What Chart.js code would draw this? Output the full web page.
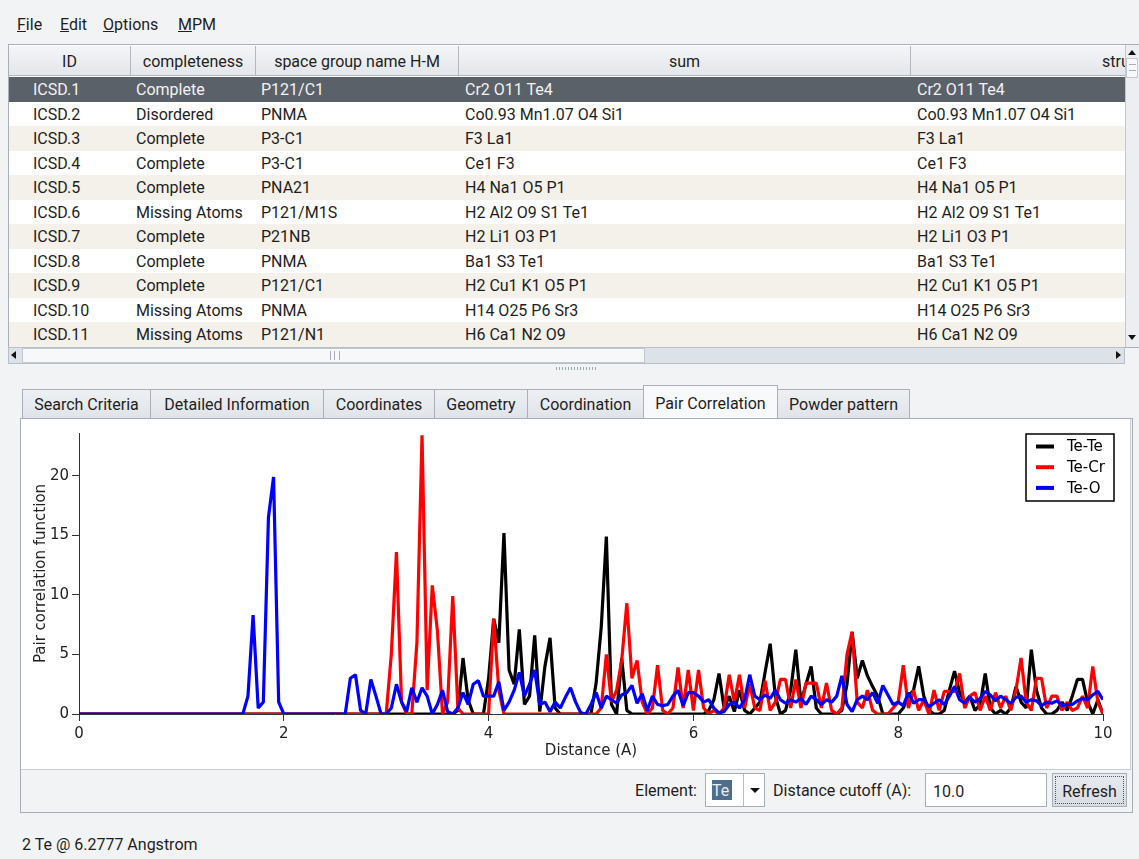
<!DOCTYPE html>
<html>
<head>
<meta charset="utf-8">
<script src="https://cdn.jsdelivr.net/npm/chart.js@4.4.0/dist/chart.umd.min.js"></script>
<style>
  body { margin: 0; width: 1139px; height: 859px; background: #f2f3f5; position: relative; overflow: hidden;
         font-family: Roboto, 'Noto Sans', sans-serif; font-size: 16px; color: #1e1e1e; }
  .abs { position: absolute; box-sizing: border-box; }
  .menu { position: absolute; top: 15px; }
  #tableClip { left: 9px; top: 45px; width: 1116px; height: 302px; overflow: hidden; background: #fff; }
  .hd { position: absolute; top: 1px; height: 30px; line-height: 31px; text-align: center; white-space: nowrap;
        background: linear-gradient(#f4f5f7, #e3e6ea); border-right: 1px solid #b3b8c0; border-bottom: 1px solid #b3b8c0; box-sizing: border-box; }
  .row { position: absolute; left: 0; width: 1500px; height: 24.5px; line-height: 26px; white-space: nowrap; }
  .row span { position: absolute; }
  .tab { position: absolute; top: 389px; height: 30px; line-height: 29px; text-align: center; box-sizing: border-box;
         border: 1px solid #aab0ba; border-bottom: none; background: linear-gradient(#eef0f3, #dfe3e8); white-space: nowrap; }
  .tab.sel { top: 385px; height: 34px; line-height: 36px; background: #f8f9fa; }
  .tri { position: absolute; width: 0; height: 0; }
</style>
</head>
<body>
<div class="menu" style="left:17px"><u>F</u>ile</div>
<div class="menu" style="left:60px"><u>E</u>dit</div>
<div class="menu" style="left:103px"><u>O</u>ptions</div>
<div class="menu" style="left:178px"><u>M</u>PM</div>

<div class="abs" style="left:8px;top:44px;width:1131px;height:304px;border:1px solid #a9afb8;"></div>
<div id="tableClip" class="abs"></div>

<!-- vertical scrollbar -->
<div class="abs" style="left:1125px;top:45px;width:14px;height:302px;background:#eceef1;border-left:1px solid #c3c8cf;"></div>
<div class="tri" style="left:1128px;top:50px;border-left:4px solid transparent;border-right:4px solid transparent;border-bottom:5px solid #111;"></div>
<div class="abs" style="left:1126px;top:58px;width:12px;height:20px;background:#f7f8fa;border:1px solid #c3c8cf;"></div>
<div class="abs" style="left:1129px;top:64px;width:7px;height:7px;border-top:1px solid #aab;border-bottom:1px solid #aab;"></div>
<div class="tri" style="left:1128px;top:335px;border-left:4px solid transparent;border-right:4px solid transparent;border-top:5px solid #111;"></div>

<!-- horizontal scrollbar -->
<div class="abs" style="left:8px;top:347px;width:1117px;height:17px;background:#dde1e8;border:1px solid #b9bfc8;"></div>
<div class="abs" style="left:22px;top:348px;width:623px;height:15px;background:#f7f8fa;border:1px solid #c3c8cf;"></div>
<div class="abs" style="left:330px;top:351px;width:10px;height:9px;border-left:1px solid #aab;border-right:1px solid #aab;"></div>
<div class="abs" style="left:334px;top:351px;width:1px;height:9px;background:#aab;"></div>
<div class="tri" style="left:11px;top:351px;border-top:4px solid transparent;border-bottom:4px solid transparent;border-right:5px solid #111;"></div>
<div class="tri" style="left:1116px;top:351px;border-top:4px solid transparent;border-bottom:4px solid transparent;border-left:5px solid #111;"></div>
<div class="abs" style="left:556px;top:367px;width:40px;height:3px;background:repeating-linear-gradient(90deg,#9aa 0 1px,transparent 1px 3px);"></div>

<div id="tabs"></div>

<!-- tab panel -->
<div class="abs" style="left:20px;top:418px;width:1113px;height:395px;border:1px solid #a7adb7;background:#f2f3f5;"></div>
<div class="abs" style="left:21px;top:419px;width:1110px;height:351px;background:#fff;border-bottom:1px solid #c9ced5;border-right:1px solid #c9ced5;"></div>
<div class="abs" style="left:22px;top:419px;width:1108px;height:350px;">
  <canvas id="pair-correlation" width="1108" height="350"></canvas>
</div>

<!-- bottom controls -->
<div class="abs" style="left:600px;top:781px;width:97px;text-align:right;">Element:</div>
<div class="abs" style="left:705px;top:773px;width:60px;height:34px;background:#fff;border:1px solid #a6adb8;"></div>
<div class="abs" style="left:712px;top:780px;width:20px;height:20px;background:#4f6d8c;color:#e6edf5;line-height:22px;">Te</div>
<div class="abs" style="left:743px;top:774px;width:1px;height:32px;background:#b8bec7;"></div>
<div class="tri" style="left:750px;top:788px;border-left:5px solid transparent;border-right:5px solid transparent;border-top:5px solid #111;"></div>
<div class="abs" style="left:773px;top:781px;">Distance cutoff (A):</div>
<div class="abs" style="left:925px;top:773px;width:122px;height:34px;background:#fff;border:1px solid #a6adb8;padding-left:7px;line-height:35px;">10.0</div>
<div class="abs" style="left:1052px;top:773px;width:75px;height:34px;background:linear-gradient(#e8ebef,#d8dde4);border:1px solid #a6adb8;text-align:center;line-height:35px;">Refresh</div>
<div class="abs" style="left:1055px;top:776px;width:69px;height:28px;border:1px dotted #555;"></div>

<div class="abs" style="left:22px;top:835px;">2 Te @ 6.2777 Angstrom</div>

<script>
// pair correlation sampled every 0.05 A from 0 to 10
const step = 0.05

const teTe = [
  0, 0, 0, 0, 0, 0, 0, 0, 0, 0, 0, 0, 0, 0, 0, 0, 0, 0, 0, 0,
  0, 0, 0, 0, 0, 0, 0, 0, 0, 0, 0, 0, 0, 0, 0, 0, 0, 0, 0, 0,
  0, 0, 0, 0, 0, 0, 0, 0, 0, 0, 0, 0, 0, 0, 0, 0, 0, 0, 0, 0,
  0, 0, 0, 0, 0, 0, 0, 0, 0, 0, 0, 0, 0, 0, 0.3, 4.7, 1.2, 0, 0, 0,
  3.0, 8.0, 6.0, 15.2, 3.7, 2.5, 7.1, 0.8, 1.5, 6.6, 0.2, 4.0, 6.4, 0.5, 0, 0, 0, 0, 0, 0,
  0, 2.6, 7.3, 14.9, 0.8, 0, 4.7, 0.3, 0, 0, 0, 0, 0, 0, 0, 0, 0, 0, 0, 0,
  0, 0, 0, 0.3, 1.2, 3.4, 0.5, 1.5, 0.2, 2.0, 0.3, 0, 0.5, 1.0, 3.5, 5.9, 1.5, 0, 0.3, 2.0,
  5.4, 1.0, 2.5, 4.0, 0.5, 0, 0, 0, 0, 0.3, 2.5, 6.9, 3.0, 4.5, 3.2, 2.3, 1.5, 0, 0, 0,
  0, 0.5, 1.5, 2.0, 4.0, 1.5, 0.3, 0, 0, 0.3, 2.0, 3.6, 1.8, 1.0, 1.5, 0.3, 0.8, 3.4, 0.5, 0,
  0.3, 0, 0.5, 2.3, 1.0, 0.5, 5.4, 2.0, 0.5, 0, 0, 0.3, 1.0, 0.3, 1.5, 2.9, 2.9, 1.0, 0, 1.2,
  0
]

const teCr = [
  0, 0, 0, 0, 0, 0, 0, 0, 0, 0, 0, 0, 0, 0, 0, 0, 0, 0, 0, 0,
  0, 0, 0, 0, 0, 0, 0, 0, 0, 0, 0, 0, 0, 0, 0, 0, 0, 0, 0, 0,
  0, 0, 0, 0, 0, 0, 0, 0, 0, 0, 0, 0, 0, 0, 0, 0, 0, 0, 0, 0,
  0, 5.0, 13.6, 1.0, 0, 0, 6.0, 23.4, 2.0, 10.8, 7.0, 0, 1.0, 9.9, 0.5, 0, 0, 0, 0, 0,
  0, 8.0, 2.0, 0, 0, 0, 0, 0, 0, 0, 0, 0, 0, 0, 0, 0, 0, 0, 0, 0,
  0, 0, 0.5, 5.0, 1.0, 2.0, 4.5, 9.3, 3.0, 4.5, 1.0, 0, 0.5, 4.1, 0.3, 0, 0.5, 3.9, 0.5, 3.7,
  0.3, 3.7, 0.5, 0, 0.3, 0, 0.5, 3.3, 1.0, 3.3, 0.5, 2.5, 0.5, 0.3, 2.8, 0.3, 1.0, 2.9, 2.9, 0.5,
  2.9, 0.5, 2.6, 2.6, 2.6, 0.5, 2.6, 0.3, 0, 0.5, 5.0, 6.9, 1.0, 0.5, 2.0, 0.3, 0, 0, 0, 0.5,
  1.0, 4.1, 0.5, 2.0, 0.3, 1.2, 0, 2.0, 0.3, 1.9, 1.9, 1.9, 3.4, 0.5, 1.5, 1.8, 0.3, 1.5, 0.3, 1.8,
  0.5, 1.5, 0.3, 2.0, 4.7, 1.0, 0.3, 3.0, 3.0, 0.5, 1.5, 1.5, 0.3, 1.0, 0.3, 0.5, 1.5, 0.5, 4.0, 1.0,
  0
]

const teO = [
  0, 0, 0, 0, 0, 0, 0, 0, 0, 0, 0, 0, 0, 0, 0, 0, 0, 0, 0, 0,
  0, 0, 0, 0, 0, 0, 0, 0, 0, 0, 0, 0, 0, 1.5, 8.3, 0.5, 1.0, 16.5, 19.9, 1.0,
  0, 0, 0, 0, 0, 0, 0, 0, 0, 0, 0, 0, 0, 3.0, 3.3, 0.3, 0, 2.9, 1.5, 0,
  0, 0.5, 2.5, 1.0, 0.2, 2.2, 1.0, 2.2, 1.5, 0, 0.8, 2.0, 0.2, 0, 0.5, 1.8, 0.8, 2.5, 2.8, 1.5,
  1.5, 1.5, 2.7, 0.3, 1.0, 2.0, 3.5, 1.5, 2.5, 3.7, 0.8, 1.0, 0.2, 1.0, 0.5, 1.4, 2.2, 1.0, 0.1, 0,
  0.8, 1.8, 0.5, 1.5, 1.2, 0.9, 1.6, 1.8, 2.4, 0.9, 1.7, 0.3, 1.5, 0.8, 0.7, 0.8, 1.5, 2.0, 0.7, 1.8,
  1.8, 1.5, 1.0, 1.2, 0.5, 0.1, 0.2, 0.8, 1.0, 0.5, 1.2, 3.3, 1.5, 1.2, 1.6, 1.3, 2.0, 1.2, 0.9, 1.2,
  1.0, 1.3, 0.8, 1.5, 1.2, 0.8, 1.2, 1.0, 1.5, 3.2, 0.8, 0.2, 1.2, 1.5, 1.2, 1.8, 0.9, 2.4, 1.6, 0.8,
  1.0, 0.7, 1.8, 0.9, 1.2, 1.2, 0.6, 0.9, 1.2, 0.8, 1.5, 2.3, 1.2, 0.9, 1.4, 1.0, 1.3, 1.9, 1.6, 1.1,
  1.5, 1.2, 0.9, 1.4, 1.5, 1.0, 1.2, 1.1, 0.7, 1.0, 0.9, 1.1, 0.7, 0.8, 0.8, 1.1, 1.3, 1.2, 1.6, 1.9,
  1.2
]

const seriesNames = ['Te-Te', 'Te-Cr', 'Te-O']
const seriesColors = ['#000000', '#ff0000', '#0000ff']
const distances = teTe.map((v, i) => +(i * step).toFixed(2))

// table + tabs of the window around the chart
const columns = [
  ['ID', 0, 122], ['completeness', 122, 125], ['space group name H-M', 247, 203],
  ['sum', 450, 452], ['structured', 902, 456]
]
const rows = [
  ['ICSD.1', 'Complete', 'P121/C1', 'Cr2 O11 Te4'],
  ['ICSD.2', 'Disordered', 'PNMA', 'Co0.93 Mn1.07 O4 Si1'],
  ['ICSD.3', 'Complete', 'P3-C1', 'F3 La1'],
  ['ICSD.4', 'Complete', 'P3-C1', 'Ce1 F3'],
  ['ICSD.5', 'Complete', 'PNA21', 'H4 Na1 O5 P1'],
  ['ICSD.6', 'Missing Atoms', 'P121/M1S', 'H2 Al2 O9 S1 Te1'],
  ['ICSD.7', 'Complete', 'P21NB', 'H2 Li1 O3 P1'],
  ['ICSD.8', 'Complete', 'PNMA', 'Ba1 S3 Te1'],
  ['ICSD.9', 'Complete', 'P121/C1', 'H2 Cu1 K1 O5 P1'],
  ['ICSD.10', 'Missing Atoms', 'PNMA', 'H14 O25 P6 Sr3'],
  ['ICSD.11', 'Missing Atoms', 'P121/N1', 'H6 Ca1 N2 O9']
]
const tabs = [
  ['Search Criteria', 22, 150], ['Detailed Information', 150, 323], ['Coordinates', 323, 434],
  ['Geometry', 434, 527], ['Coordination', 527, 643], ['Pair Correlation', 643, 777], ['Powder pattern', 777, 909]
]

const clip = document.getElementById('tableClip')
columns.forEach(([name, left, width]) => {
  const d = document.createElement('div')
  d.className = 'hd'
  d.style.left = left + 'px'
  d.style.width = width + 'px'
  d.textContent = name
  clip.appendChild(d)
})
rows.forEach((r, i) => {
  const d = document.createElement('div')
  d.className = 'row'
  d.style.top = 32 + i * 24.5 + 'px'
  d.style.background = i === 0 ? '#5b6169' : i % 2 ? '#ffffff' : '#f4f0ea'
  if (i === 0) d.style.color = '#f2f2f2'
  const cells = [[r[0], 24], [r[1], 127], [r[2], 252], [r[3], 456], [r[3], 908]]
  cells.forEach(([t, x]) => {
    const s = document.createElement('span')
    s.style.left = x + 'px'
    s.textContent = t
    d.appendChild(s)
  })
  clip.appendChild(d)
})
const tabBox = document.getElementById('tabs')
tabs.forEach(([name, l, r]) => {
  const d = document.createElement('div')
  d.className = 'tab' + (name === 'Pair Correlation' ? ' sel' : '')
  d.style.left = l + 'px'
  d.style.width = r - l + 1 + 'px'
  d.textContent = name
  tabBox.appendChild(d)
})

// legend drawn inside the plot, top right
const legendInside = {
  id: 'legendInside',
  afterDatasetsDraw(chart) {
    const ctx = chart.ctx
    const a = chart.chartArea
    const x0 = a.right - 77
    const y0 = a.top + 1
    ctx.save()
    ctx.fillStyle = '#fff'
    ctx.fillRect(x0, y0, 88, 67)
    ctx.strokeStyle = '#000'
    ctx.lineWidth = 1.5
    ctx.strokeRect(x0, y0, 88, 67)
    ctx.font = '15px "DejaVu Sans"'
    ctx.textBaseline = 'middle'
    chart.data.datasets.forEach((ds, i) => {
      const y = y0 + 12.5 + i * 20.7
      ctx.strokeStyle = ds.borderColor
      ctx.lineWidth = 4
      ctx.beginPath()
      ctx.moveTo(x0 + 10, y)
      ctx.lineTo(x0 + 28, y)
      ctx.stroke()
      ctx.fillStyle = '#000'
      ctx.fillText(ds.label, x0 + 41, y + 1)
    })
    ctx.restore()
  }
}

Chart.defaults.font.family = '"DejaVu Sans", sans-serif'
Chart.defaults.font.size = 15
Chart.defaults.color = '#222'

const ctx = document.getElementById('pair-correlation')
const values = [teTe, teCr, teO]

new Chart(ctx, {
  type: 'line',
  data: {
    labels: distances,
    datasets: seriesNames.map((name, i) => ({
      label: name,
      data: values[i],
      borderColor: seriesColors[i],
      backgroundColor: seriesColors[i],
      borderWidth: 3.2,
      borderJoinStyle: 'bevel',
      pointRadius: 0,
      tension: 0,
      order: 3 - i // Te-O drawn on top
    }))
  },
  options: {
    responsive: false,
    animation: false,
    events: [],
    layout: { padding: { top: 14, right: 27, left: 0, bottom: 0 } },
    plugins: {
      legend: { display: false },
      tooltip: { enabled: false }
    },
    scales: {
      x: {
        type: 'linear',
        min: 0,
        max: 10,
        afterFit: (scale) => { scale.height = 55 },
        ticks: { stepSize: 2, padding: 4, maxRotation: 0 },
        grid: { drawOnChartArea: false, tickLength: 7, color: '#333' },
        border: { color: '#333' },
        title: { display: true, text: 'Distance (A)', padding: { top: 0, bottom: 9 } }
      },
      y: {
        min: 0,
        max: 23.6,
        afterFit: (scale) => { scale.width = 57 },
        ticks: { stepSize: 5, includeBounds: false, padding: 3 },
        grid: { drawOnChartArea: false, tickLength: 7, color: '#333' },
        border: { color: '#333' },
        title: { display: true, text: 'Pair correlation function', padding: { top: 10, bottom: 0 } }
      }
    }
  },
  plugins: [legendInside]
})
</script>
</body>
</html>
